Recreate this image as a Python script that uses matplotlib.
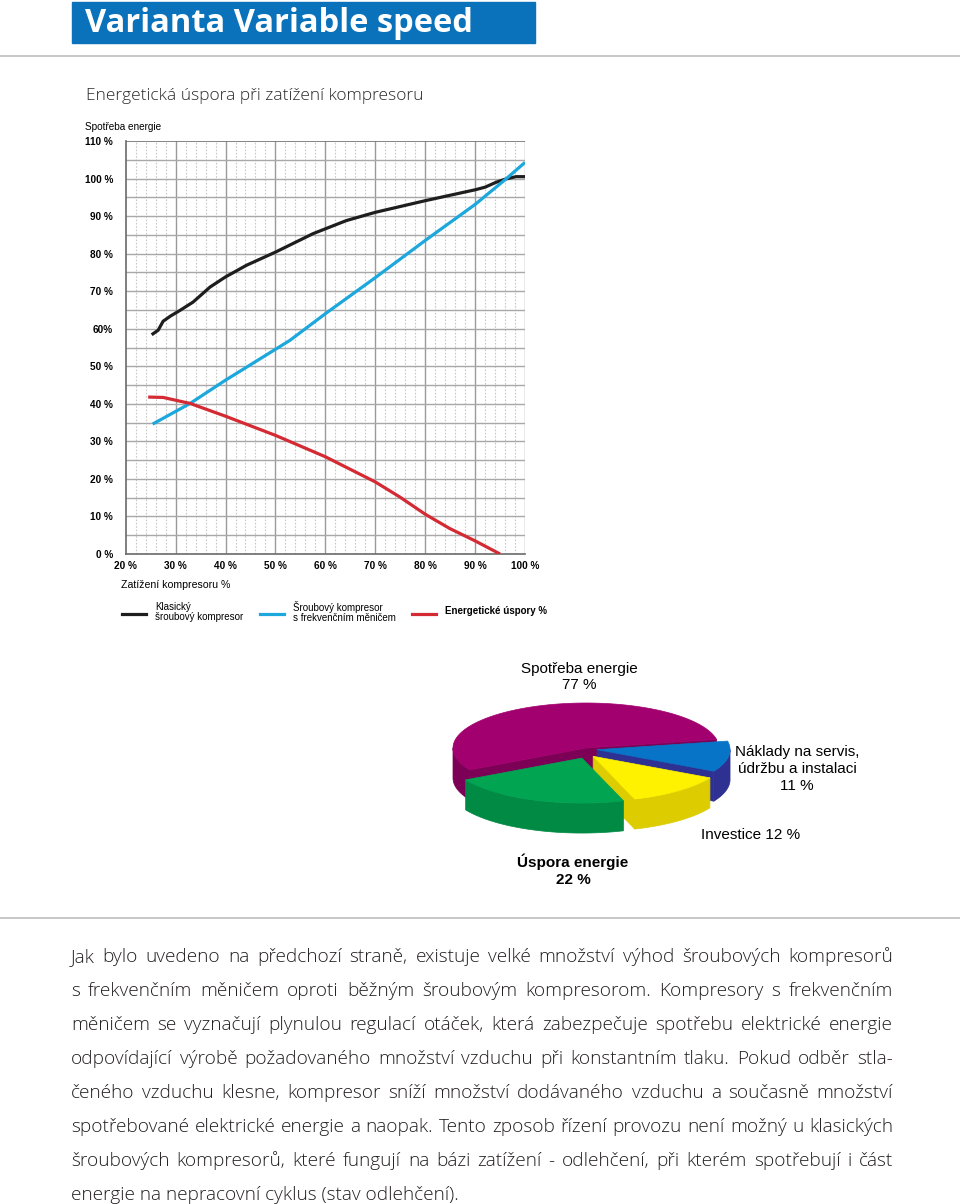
import numpy as np
import matplotlib.pyplot as plt
from matplotlib.patches import Rectangle, Polygon

# ---- data -------------------------------------------------------------
TITLE = "Varianta Variable speed"
SUBTITLE = "Energetická úspora při zatížení kompresoru"

x_ticks = [20, 30, 40, 50, 60, 70, 80, 90, 100]
x_labels = ["20 %", "30 %", "40 %", "50 %", "60 %", "70 %", "80 %", "90 %", "100 %"]
y_ticks = [0, 10, 20, 30, 40, 50, 60, 70, 80, 90, 100, 110]
y_labels = ["0 %", "10 %", "20 %", "30 %", "40 %", "50 %", "60%", "70 %", "80 %", "90 %", "100 %", "110 %"]

# klasicky sroubovy kompresor
black_x = [25.2, 26.5, 27.5, 29.0, 30.9, 33.5, 36.9, 40, 44.2, 50, 57.5, 64.2, 70, 80, 90, 92, 94.2, 96.2, 98.2, 100]
black_y = [58.4, 59.6, 62.0, 63.4, 64.9, 67.1, 71.1, 73.8, 76.9, 80.4, 85.3, 88.8, 91.0, 94.1, 97.0, 97.7, 99.0, 99.9, 100.5, 100.5]
# sroubovy kompresor s frekvencnim menicem
blue_x = [25.4, 32.9, 40, 52.9, 60, 70, 80, 90, 96.2, 100]
blue_y = [34.6, 40.1, 46.3, 56.9, 64.0, 73.6, 83.5, 93.1, 99.9, 104.3]
# energeticke uspory
red_x = [24.5, 27.5, 32.9, 40, 50, 60, 70, 74.9, 80, 84.9, 90, 95]
red_y = [41.8, 41.7, 40.1, 36.7, 31.6, 25.9, 19.2, 15.2, 10.6, 6.8, 3.5, 0]

legend_labels = ["Klasický\nšroubový kompresor", "Šroubový kompresor\ns frekvenčním měničem", "Energetické úspory %"]

# pie: spotreba energie 77 % = zbytek 55 % + uspora 22 %
pie_values = [55, 22, 12, 11]
pie_explode = [0, 1, 1, 1]
pie_top = ["#A3006F", "#00A451", "#FFF200", "#0874C8"]
pie_side = ["#7C0055", "#008A44", "#DCCC00", "#2E3192"]

paragraph = [
    "Jak bylo uvedeno na předchozí straně, existuje velké množství výhod šroubových kompresorů",
    "s frekvenčním měničem oproti běžným šroubovým kompresorom. Kompresory s frekvenčním",
    "měničem se vyznačují plynulou regulací otáček, která zabezpečuje spotřebu elektrické energie",
    "odpovídající výrobě požadovaného množství vzduchu při konstantním tlaku. Pokud odběr stla-",
    "čeného vzduchu klesne, kompresor sníží množství dodávaného vzduchu a současně množství",
    "spotřebované elektrické energie a naopak. Tento zposob řízení provozu není možný u klasických",
    "šroubových kompresorů, které fungují na bázi zatížení - odlehčení, při kterém spotřebují i část",
    "energie na nepracovní cyklus (stav odlehčení).",
]

W, H = 960, 1204
SANS = ["Liberation Sans", "DejaVu Sans"]
BODY = ["Open Sans", "DejaVu Sans"]

fig = plt.figure(figsize=(W / 100, H / 100), dpi=100)
bg = fig.add_axes([0, 0, 1, 1], zorder=0)
bg.set_xlim(0, W)
bg.set_ylim(H, 0)
bg.axis("off")

# header
bg.add_patch(Rectangle((72, 2), 463, 41, color="#0A72BA"))
bg.text(85, 23, TITLE, color="white", fontsize=23.5, fontweight="bold",
        family=BODY, va="center", ha="left")
bg.plot([0, W], [56, 56], color="#BDBDBD", lw=1.2)
bg.text(86, 96, SUBTITLE, fontsize=12.5, family=BODY, fontweight="light",
        color="#2A2A2A", va="center", ha="left")

# ---- line chart --------------------------------------------------------
ax = fig.add_axes([125.7 / W, 1 - 554 / H, (525 - 125.7) / W, (554 - 141) / H], zorder=2)
ax.set_facecolor("none")
ax.set_xlim(20, 100)
ax.set_ylim(0, 110)
for xv in np.arange(22, 100, 2):
    if xv % 10:
        ax.axvline(xv, color="#C8C8C8", lw=0.8, ls=(0, (1.5, 1.5)), zorder=0)
for xv in range(30, 101, 10):
    ax.axvline(xv, color="#9A9A9A", lw=1.0, zorder=0)
for yv in range(5, 110, 5):
    ax.axhline(yv, color="#A8A8A8", lw=1.0, zorder=0)
ax.axhline(110, color="#707070", lw=1.2, zorder=0)

ax.plot(black_x, black_y, color="#1E1E1E", lw=2.3, solid_capstyle="butt", zorder=3)
ax.plot(blue_x, blue_y, color="#1CA7DD", lw=2.3, solid_capstyle="butt", zorder=3)
ax.plot(red_x, red_y, color="#D42A33", lw=2.3, solid_capstyle="butt", zorder=3)

ax.set_xticks(x_ticks)
ax.set_xticklabels(x_labels, fontsize=7.2, fontweight="bold", family=SANS)
ax.set_yticks(y_ticks)
ax.set_yticklabels(y_labels, fontsize=7.2, fontweight="bold", family=SANS)
ax.tick_params(length=0)
ax.tick_params(axis="y", pad=9)
ax.tick_params(axis="x", pad=5)
for s in ["top", "right"]:
    ax.spines[s].set_visible(False)
ax.spines["left"].set_color("#6A6A6A")
ax.spines["bottom"].set_color("#6A6A6A")
ax.spines["left"].set_linewidth(1.2)
ax.spines["bottom"].set_linewidth(1.2)

bg.text(85, 127, "Spotřeba energie", fontsize=7.2, family=SANS, va="center", ha="left")
bg.text(121, 585, "Zatížení kompresoru %", fontsize=7.6, family=SANS, va="center", ha="left")

# legend
leg_colors = ["#1E1E1E", "#1CA7DD", "#D42A33"]
leg_x = [122, 260, 412]
for i, lab in enumerate(legend_labels):
    bg.plot([leg_x[i], leg_x[i] + 24], [614, 614], color=leg_colors[i], lw=2.3)
    bg.text(leg_x[i] + 33, 612 if i < 2 else 611, lab, fontsize=7.0, family=SANS,
            va="center", ha="left", linespacing=0.95,
            fontweight="bold" if i == 2 else "normal")

# ---- 3D pie -----------------------------------------------------------
cx, cy, rx, ry, thick = 586, 748, 133, 45, 30
k = ry / rx
start = 11.0
angles = [start]
for v in pie_values:
    angles.append(angles[-1] + 360.0 * v / sum(pie_values))


def scr(u, v, off):
    return cx + u + off[0], cy - (v + off[1]) * k


for i in [0, 3, 2, 1]:
    a, b = angles[i], angles[i + 1]
    mid = np.radians((a + b) / 2)
    d = 0.24 * rx * pie_explode[i]
    # pulled mostly towards the viewer, little sideways
    off = (0.35 * d * np.cos(mid), d * np.sin(mid))
    th = np.radians(np.linspace(a, b, 240))
    top = [scr(rx * np.cos(t), rx * np.sin(t), off) for t in th]
    apex = scr(0, 0, off)
    # radial cut walls
    for e, sgn in [(a, 1), (b, -1)]:
        c = np.cos(np.radians(e))
        if c * sgn > 0:
            rim = scr(rx * np.cos(np.radians(e)), rx * np.sin(np.radians(e)), off)
            bg.add_patch(Polygon([apex, rim, (rim[0], rim[1] + thick), (apex[0], apex[1] + thick)],
                                 closed=True, fc=pie_side[i], ec=pie_side[i], lw=0.5))
    # outer wall (front half)
    mask = np.sin(th) <= 0.001
    if mask.any():
        pts = [top[j] for j in range(len(th)) if mask[j]]
        low = [(p[0], p[1] + thick) for p in pts[::-1]]
        bg.add_patch(Polygon(pts + low, closed=True, fc=pie_side[i], ec=pie_side[i], lw=0.5))
    bg.add_patch(Polygon([apex] + top, closed=True, fc=pie_top[i], ec=pie_top[i], lw=0.5))

pie_font = dict(fontsize=11, family=SANS, ha="center", va="center", linespacing=1.25)
bg.text(579, 677, "Spotřeba energie\n77 %", **pie_font)
bg.text(797, 769, "Náklady na servis,\núdržbu a instalaci\n11 %", **pie_font)
bg.text(751, 835, "Investice 12 %", **pie_font)
bg.text(573, 870, "Úspora energie\n22 %", fontweight="bold", **pie_font)

bg.plot([0, W], [918, 918], color="#BDBDBD", lw=1.2)

# ---- paragraph (justified) ---------------------------------------------
fig.canvas.draw()
renderer = fig.canvas.get_renderer()
left, right = 71, 893
body_size = 13.7
body = dict(fontsize=body_size, family=BODY, fontweight="light", color="#231F20",
            va="baseline", ha="left")
for n, line in enumerate(paragraph):
    yb = 962 + 34 * n
    words = line.split(" ")
    if n == len(paragraph) - 1:
        bg.text(left, yb, line, **body)
        continue
    objs = [bg.text(0, yb, w_, **body) for w_ in words]
    widths = [o.get_window_extent(renderer).width for o in objs]
    gap = (right - left - sum(widths)) / (len(words) - 1)
    xpos = left
    for o, wd in zip(objs, widths):
        o.set_x(xpos)
        xpos += wd + gap

fig.savefig("out.png", dpi=100)
